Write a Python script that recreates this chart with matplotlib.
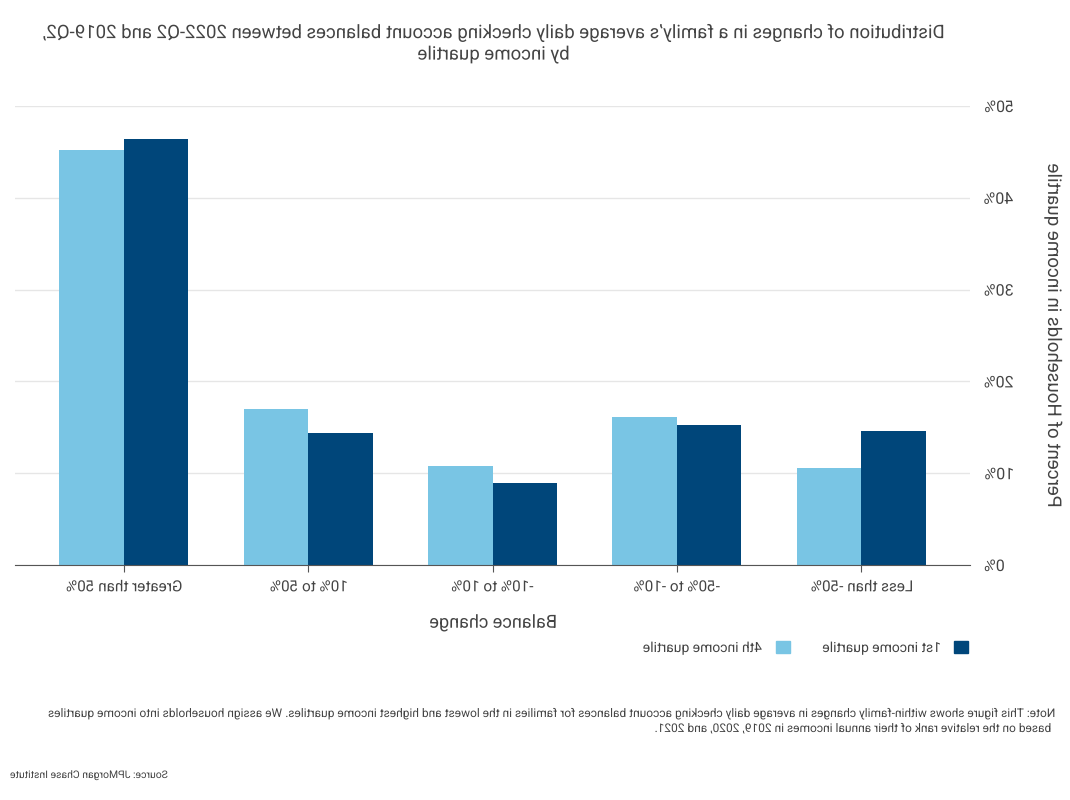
import matplotlib
matplotlib.use("Agg")
import matplotlib.pyplot as plt
import numpy as np
from matplotlib import patheffects
from matplotlib.patches import Patch
from matplotlib.text import Text
from matplotlib.transforms import Affine2D

# Data
categories = ["Less than -50%", "-50% to -10%", "-10% to 10%", "10% to 50%", "Greater than 50%"]
first_quartile = [14.6, 15.3, 8.9, 14.4, 46.4]
fourth_quartile = [10.6, 16.1, 10.8, 17.0, 45.2]
y_ticks = [0, 10, 20, 30, 40, 50]
y_tick_labels = ["0%", "10%", "20%", "30%", "40%", "50%"]

LIGHT = "#79c5e4"
DARK = "#00467a"
TEXT = "#444444"


class Mirror(patheffects.AbstractPathEffect):
    # the reference picture is flipped left-right, so flip each glyph run too
    def draw_path(self, renderer, gc, tpath, affine, rgbFace=None):
        ext = tpath.get_extents(affine)
        cx = (ext.x0 + ext.x1) / 2
        flip = Affine2D().translate(-cx, 0).scale(-1, 1).translate(cx, 0)
        renderer.draw_path(gc, tpath, affine + flip, rgbFace)


plt.rcParams["font.family"] = ["Liberation Sans Narrow", "Roboto", "DejaVu Sans"]
plt.rcParams["text.color"] = TEXT

fig = plt.figure(figsize=(10.7, 8), dpi=100)
ax = fig.add_axes([15 / 1070, 1 - 565 / 800, 955 / 1070, 459 / 800])

x = np.arange(len(categories))
w = 0.35
# x axis is inverted below, so the dark bar lands on the right of each group
ax.bar(x - w / 2, first_quartile, w, color=DARK, zorder=2)
ax.bar(x + w / 2, fourth_quartile, w, color=LIGHT, zorder=2)

ax.set_xlim(len(categories) - 1 + 0.59, -0.59)
ax.set_ylim(0, 50)
ax.set_xticks(x)
ax.set_xticklabels(categories, fontsize=11, color=TEXT)
ax.set_yticks(y_ticks)
ax.set_yticklabels(y_tick_labels, fontsize=11.5, color=TEXT)
ax.yaxis.tick_right()
ax.yaxis.set_label_position("right")
ax.tick_params(axis="y", length=0, pad=10)
ax.tick_params(axis="x", length=5, color="#555555", pad=6)
ax.grid(axis="y", color="#e6e6e6", linewidth=1, zorder=0)
for s in ["top", "left", "right"]:
    ax.spines[s].set_visible(False)
ax.spines["bottom"].set_color("#555555")
ax.spines["bottom"].set_zorder(3)

ax.set_xlabel("Balance change", fontsize=13, color=TEXT, labelpad=14)
ax.set_ylabel("Percent of Households in income quartile", fontsize=13.5, color=TEXT,
              rotation=90, labelpad=22)

fig.text(493 / 1070, 1 - 24 / 800,
         "Distribution of changes in a family’s average daily checking account balances between 2022-Q2 and 2019-Q2,\nby income quartile",
         ha="center", va="top", fontsize=13.4, color=TEXT, linespacing=1.25)

handles = [Patch(color=LIGHT), Patch(color=DARK)]
labels = ["4th income quartile", "1st income quartile"]
fig.legend(handles, labels, loc="center right", bbox_to_anchor=(968 / 1070, 1 - 648 / 800),
           ncol=2, frameon=False, markerfirst=False, fontsize=10,
           handlelength=1.0, handleheight=1.0, handletextpad=1.0,
           columnspacing=2.3, borderpad=0, borderaxespad=0)

fig.text(1050 / 1070, 1 - 707 / 800,
         "Note: This figure shows within-family changes in average daily checking account balances for families in the lowest and highest income quartiles. We assign households into income quartiles\nbased on the relative rank of their annual incomes in 2019, 2020, and 2021.",
         ha="right", va="top", fontsize=8.6, color=TEXT, linespacing=1.2)
fig.text(10 / 1070, 1 - 775 / 800, "Source: JPMorgan Chase Institute",
         ha="left", va="center", fontsize=7.5, color=TEXT)

fig.canvas.draw()
for t in fig.findobj(Text):
    t.set_path_effects([Mirror()])

fig.savefig("out.png", dpi=100)
